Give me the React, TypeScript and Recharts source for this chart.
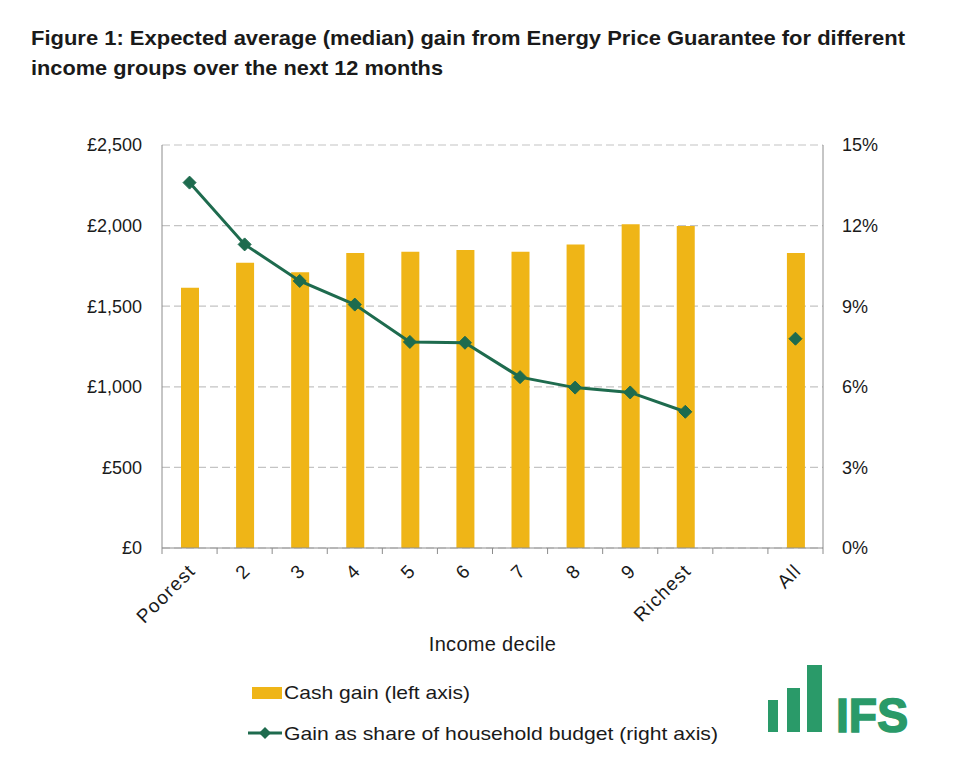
import React from 'react';
import { ComposedChart, Bar, Line, XAxis, YAxis, CartesianGrid } from 'recharts';

const categories = ['Poorest', '2', '3', '4', '5', '6', '7', '8', '9', 'Richest', '', 'All'];
const cashGain = [1615, 1770, 1710, 1830, 1838, 1848, 1838, 1882, 2008, 1998, null, 1830];
const budgetShare = [13.6, 11.3, 9.94, 9.06, 7.67, 7.64, 6.36, 5.97, 5.79, 5.07, null, 7.79];
const leftTicks = [0, 500, 1000, 1500, 2000, 2500];
const rightTicks = [0, 3, 6, 9, 12, 15];

const titleLines = [
  'Figure 1: Expected average (median) gain from Energy Price Guarantee for different',
  'income groups over the next 12 months',
];
const legendLabels = ['Cash gain (left axis)', 'Gain as share of household budget (right axis)'];

const data = categories.map((c, i) => ({ name: c, cash: cashGain[i], share: budgetShare[i] }));

const BAR = '#EFB517';
const GREEN = '#1E6B4E';
const AXIS = '#8c8c8c';
const FONT = '"Liberation Sans", Arial, sans-serif';
const TEXT = '#1a1a1a';

const W = 959;
const H = 783;
const PLOT_L = 162;
const PLOT_R = 823;
const PLOT_T = 145;
const PLOT_B = 548;
const BAND = (PLOT_R - PLOT_L) / categories.length;

const fmtPound = (v: number) => '£' + v.toLocaleString('en-GB');
const fmtPct = (v: number) => v + '%';

const Diamond = (props: any) => {
  const { cx, cy, value } = props;
  if (value == null || cx == null || cy == null) return null;
  const r = 6.5;
  return (
    <path
      d={`M${cx},${cy - r}L${cx + r},${cy}L${cx},${cy + r}L${cx - r},${cy}Z`}
      fill={GREEN}
      stroke={GREEN}
      strokeWidth={1}
    />
  );
};

const XTick = (props: any) => {
  const { x, payload, index } = props;
  const left = x - BAND / 2;
  const isLast = index === categories.length - 1;
  const ty = PLOT_B + 24;
  const tx = x + 7;
  return (
    <g>
      <line x1={left} y1={PLOT_B} x2={left} y2={PLOT_B + 6} stroke={AXIS} strokeWidth={1} />
      {isLast && (
        <line x1={x + BAND / 2} y1={PLOT_B} x2={x + BAND / 2} y2={PLOT_B + 6} stroke={AXIS} strokeWidth={1} />
      )}
      {payload.value !== '' && (
        <text
          x={tx}
          y={ty}
          transform={`rotate(-45, ${tx}, ${ty})`}
          textAnchor="end"
          fontFamily={FONT}
          fontSize={19}
          letterSpacing={1.2}
          fill={TEXT}
        >
          {payload.value}
        </text>
      )}
    </g>
  );
};

export default function App() {
  return (
    <div style={{ position: 'absolute', left: 0, top: 0, width: W, height: H, background: '#fff' }}>
      <ComposedChart
        width={W}
        height={H}
        data={data}
        margin={{ top: PLOT_T, right: 0, left: 0, bottom: H - PLOT_B - 110 }}
        barCategoryGap={0}
      >
        <CartesianGrid
          yAxisId="left"
          vertical={false}
          stroke="#c4c4c4"
          strokeDasharray="8 4"
          strokeWidth={1.2}
        />
        <XAxis
          dataKey="name"
          type="category"
          interval={0}
          height={110}
          stroke={AXIS}
          tickLine={false}
          tick={<XTick />}
          label={{
            value: 'Income decile',
            position: 'insideBottom',
            offset: 7,
            style: { fontFamily: FONT, fontSize: 20, fill: TEXT, letterSpacing: 0.3 },
          }}
        />
        <YAxis
          yAxisId="left"
          orientation="left"
          width={PLOT_L}
          domain={[0, 2500]}
          ticks={leftTicks}
          tickFormatter={fmtPound}
          stroke={AXIS}
          tickLine={false}
          tickMargin={14}
          tick={{ fontFamily: FONT, fontSize: 18, fill: TEXT }}
        />
        <YAxis
          yAxisId="right"
          orientation="right"
          width={W - PLOT_R}
          domain={[0, 15]}
          ticks={rightTicks}
          tickFormatter={fmtPct}
          stroke={AXIS}
          tickLine={false}
          tickMargin={13}
          tick={{ fontFamily: FONT, fontSize: 18, fill: TEXT, textAnchor: 'start' }}
        />
        <Bar yAxisId="left" dataKey="cash" fill={BAR} barSize={18} isAnimationActive={false} />
        <Line
          yAxisId="right"
          dataKey="share"
          stroke={GREEN}
          strokeWidth={3}
          dot={<Diamond />}
          activeDot={false}
          connectNulls={false}
          isAnimationActive={false}
        />
      </ComposedChart>
      <svg
        width={W}
        height={H}
        style={{ position: 'absolute', left: 0, top: 0, pointerEvents: 'none' }}
      >
        <text
          x={31}
          y={45}
          fontFamily={FONT}
          fontWeight="bold"
          fontSize={21}
          textLength={874}
          lengthAdjust="spacingAndGlyphs"
          fill={TEXT}
        >
          {titleLines[0]}
        </text>
        <text
          x={31}
          y={75}
          fontFamily={FONT}
          fontWeight="bold"
          fontSize={21}
          textLength={412}
          lengthAdjust="spacingAndGlyphs"
          fill={TEXT}
        >
          {titleLines[1]}
        </text>
        <rect x={252} y={687} width={30} height={12} fill={BAR} />
        <text
          x={284}
          y={699}
          fontFamily={FONT}
          fontSize={19}
          textLength={186}
          lengthAdjust="spacingAndGlyphs"
          fill={TEXT}
        >
          {legendLabels[0]}
        </text>
        <line x1={248} y1={733} x2={282} y2={733} stroke={GREEN} strokeWidth={3} />
        <path d="M265,727L271,733L265,739L259,733Z" fill={GREEN} />
        <text
          x={284}
          y={740}
          fontFamily={FONT}
          fontSize={19}
          textLength={434}
          lengthAdjust="spacingAndGlyphs"
          fill={TEXT}
        >
          {legendLabels[1]}
        </text>
        <g fill="#2A9A69">
          <rect x={768} y={700} width={10} height={32} />
          <rect x={787} y={688} width={13} height={44} />
          <rect x={807} y={665} width={15} height={67} />
          <text
            x={836}
            y={732}
            fontFamily={FONT}
            fontWeight="bold"
            fontSize={48}
            textLength={72}
            lengthAdjust="spacingAndGlyphs"
            stroke="#2A9A69"
            strokeWidth={1.6}
          >
            IFS
          </text>
        </g>
      </svg>
    </div>
  );
}
